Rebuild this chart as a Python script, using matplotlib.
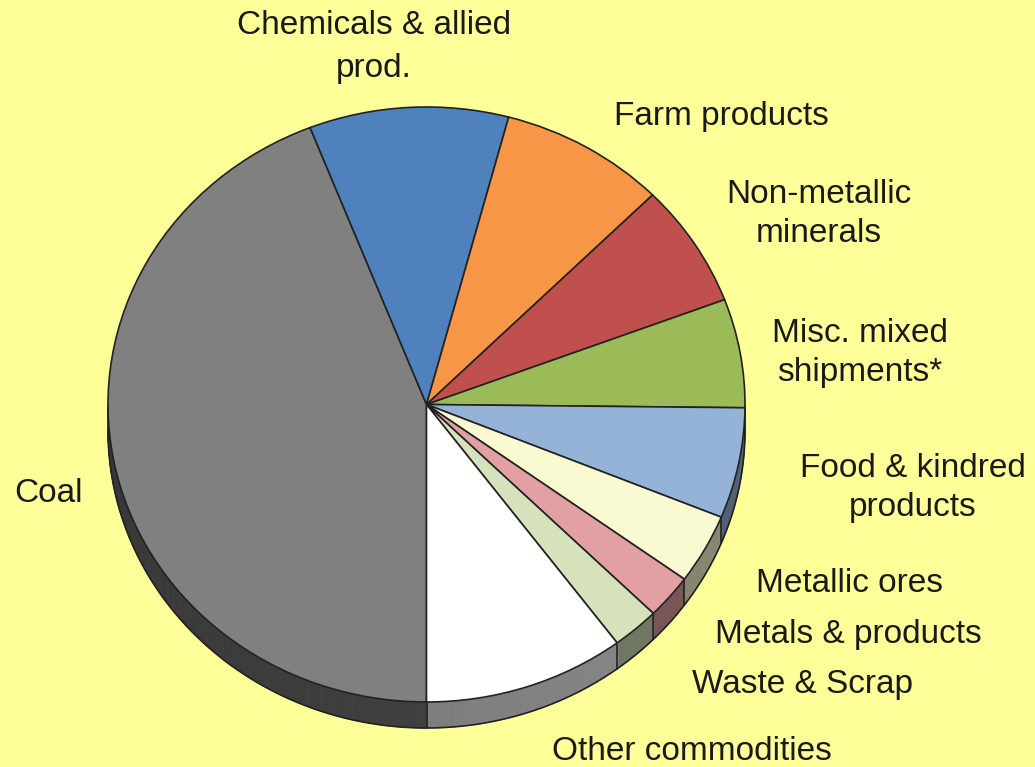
import numpy as np
import matplotlib.pyplot as plt
from matplotlib.collections import PolyCollection

# commodity shares of tonnage (percent)
categories = ["Coal", "Chemicals & allied\nprod.", "Farm products",
              "Non-metallic\nminerals", "Misc. mixed\nshipments*",
              "Food & kindred\nproducts", "Metallic ores",
              "Metals & products", "Waste & Scrap", "Other commodities"]
shares = [44.0, 10.1, 8.4, 6.7, 5.9, 6.0, 3.8, 2.4, 2.4, 10.2]
colors = ["#808080", "#4F81BD", "#F79646", "#C0504D", "#9BBB59",
          "#95B3D7", "#F9F9D2", "#E3A0A3", "#D5E2BC", "#FFFFFF"]

# label anchor points in pixels (x centre, y centre from top) and line spacing
label_xy = [(48, 494), (374, 47), (721, 116), (819, 214), (860, 353),
            (913, 488), (849, 584), (848, 634), (802, 684), (692, 752)]
label_ls = [1.3, 1.5, 1.3, 1.36, 1.3, 1.3, 1.3, 1.3, 1.3, 1.3]

W, H = 1035, 767
cx, cy = 426.5, 767 - 404.5      # pie centre, pixels from bottom
rx, ry = 318.5, 297.5            # ellipse radii of the top face
depth = 26 / ry                  # thickness of the rim

plt.rcParams["font.family"] = ["Liberation Sans", "DejaVu Sans"]
fig = plt.figure(figsize=(W / 100, H / 100), dpi=100, facecolor="#FFFF99")
ax = fig.add_axes([0, 0, 1, 1])
ax.set_facecolor("#FFFF99")

wedges, _ = ax.pie(shares, colors=colors, startangle=-90, counterclock=False,
                   radius=1, center=(0, 0),
                   wedgeprops=dict(edgecolor="#222222", linewidth=1.2, zorder=3))

# side of the disc: only the lower half of the rim shows
frac = np.cumsum([0] + shares) / sum(shares)
ts = np.arange(90, 270, 0.5)
polys, fills = [], []
for t in ts:
    t2 = t + 0.5
    pos = ((t + 0.25 - 180) % 360) / 360
    i = min(np.searchsorted(frac, pos, side="right") - 1, len(shares) - 1)
    a, b = np.radians(t), np.radians(t2)
    polys.append([(np.sin(a), np.cos(a)), (np.sin(b), np.cos(b)),
                  (np.sin(b), np.cos(b) - depth), (np.sin(a), np.cos(a) - depth)])
    shade = 0.56 - 0.14 * (t - 90) / 180
    rgb = np.array(plt.matplotlib.colors.to_rgb(colors[i])) * shade
    fills.append(rgb)
ax.add_collection(PolyCollection(polys, facecolors=fills, edgecolors=fills,
                                 linewidths=0.6, zorder=1))

# outline of the rim and slice seams on the side
tt = np.radians(np.linspace(90, 270, 300))
ax.plot(np.sin(tt), np.cos(tt) - depth, color="#222222", lw=1.2, zorder=2)
for f in frac[:-1]:
    t = (180 + f * 360) % 360
    if 90 < t < 270:
        r = np.radians(t)
        ax.plot([np.sin(r)] * 2, [np.cos(r), np.cos(r) - depth],
                color="#222222", lw=1.2, zorder=2)

ax.set_aspect("auto")
ax.set_xlim(-cx / rx, (W - cx) / rx)
ax.set_ylim(-cy / ry, (H - cy) / ry)
ax.set_axis_off()

for name, (x, y), ls in zip(categories, label_xy, label_ls):
    fig.text(x / W, 1 - y / H, name, ha="center", va="center", fontsize=24,
             color="#1a1a1a", linespacing=ls)

fig.savefig("out.png", dpi=100, facecolor=fig.get_facecolor())
